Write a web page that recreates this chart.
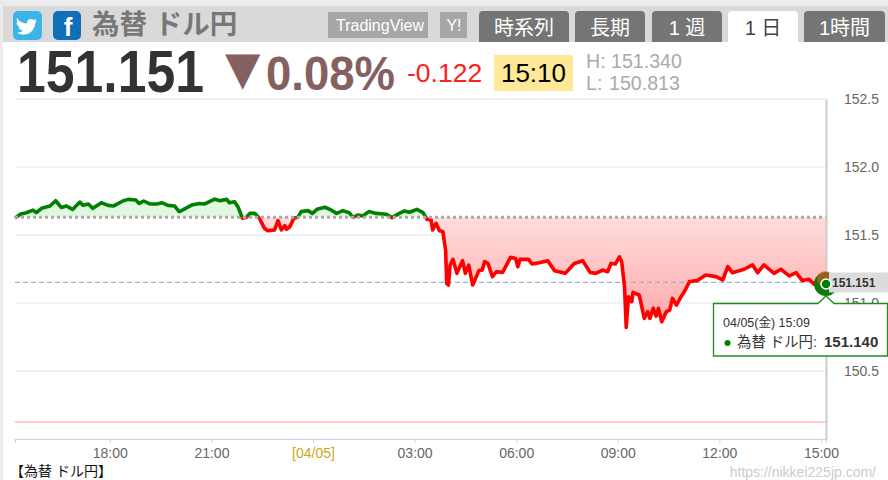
<!DOCTYPE html>
<html>
<head>
<meta charset="utf-8">
<script src="https://cdn.jsdelivr.net/npm/d3@7"></script>
<style>
  html, body { margin: 0; padding: 0; background: #fff; overflow: hidden; }
  svg { display: block; }
  text { font-family: "Liberation Sans", "Noto Sans CJK JP", sans-serif; }
</style>
</head>
<body>
<div id="chart"></div>
<script>
// USD/JPY, 04/04 15:12 to 04/05 15:09
const times = [
  "15:12", "15:14", "15:21", "15:32", "15:44", "15:50", "15:59", "16:14", "16:24", "16:34",
  "16:43", "16:54", "17:07", "17:13", "17:22", "17:30", "17:45", "17:57", "18:06", "18:24",
  "18:33", "18:46", "18:52", "19:00", "19:11", "19:23", "19:33", "19:43", "19:55", "20:03",
  "20:11", "20:25", "20:39", "20:48", "21:06", "21:15", "21:27", "21:32", "21:41", "21:47",
  "21:55", "22:02", "22:08", "22:17", "22:25", "22:34", "22:40", "22:52", "22:58", "23:04",
  "23:10", "23:13", "23:19", "23:26", "23:33", "23:39", "23:51", "23:59", "00:07", "00:21",
  "00:32", "00:42", "00:53", "01:04", "01:11", "01:20", "01:28", "01:39", "01:52", "02:10",
  "02:20", "02:33", "02:42", "02:51", "03:04", "03:15", "03:22", "03:29", "03:32", "03:38",
  "03:44", "03:50", "03:55", "03:57", "04:00", "04:03", "04:08", "04:15", "04:25", "04:30",
  "04:36", "04:43", "04:54", "05:00", "05:04", "05:10", "05:18", "05:25", "05:36", "05:50",
  "05:59", "06:03", "06:07", "06:22", "06:28", "06:41", "06:56", "07:08", "07:27", "07:43",
  "07:58", "08:11", "08:21", "08:33", "08:42", "08:48", "08:56", "09:03", "09:07", "09:12",
  "09:15", "09:19", "09:25", "09:27", "09:38", "09:47", "09:53", "09:57", "10:03", "10:08",
  "10:12", "10:18", "10:26", "10:32", "10:37", "10:44", "10:52", "10:58", "11:07", "11:21",
  "11:36", "11:54", "12:06", "12:15", "12:23", "12:44", "12:59", "13:08", "13:19", "13:37",
  "13:49", "14:04", "14:16", "14:27", "14:39", "14:48", "14:57", "15:07", "15:09"
];

const values = [
  151.625, 151.630, 151.652, 151.664, 151.683, 151.664, 151.696, 151.713, 151.752, 151.703,
  151.713, 151.688, 151.742, 151.718, 151.728, 151.696, 151.737, 151.718, 151.713, 151.752,
  151.762, 151.757, 151.732, 151.750, 151.728, 151.728, 151.737, 151.718, 151.713, 151.671,
  151.688, 151.720, 151.732, 151.728, 151.764, 151.752, 151.762, 151.737, 151.745, 151.708,
  151.623, 151.630, 151.659, 151.659, 151.623, 151.549, 151.532, 151.537, 151.606, 151.537,
  151.569, 151.542, 151.561, 151.623, 151.630, 151.672, 151.679, 151.659, 151.689, 151.704,
  151.684, 151.659, 151.679, 151.664, 151.630, 151.647, 151.640, 151.672, 151.659, 151.652,
  151.628, 151.659, 151.677, 151.667, 151.689, 151.664, 151.615, 151.615, 151.537, 151.586,
  151.532, 151.525, 151.390, 151.144, 151.132, 151.279, 151.321, 151.218, 151.311, 151.218,
  151.279, 151.132, 151.238, 151.242, 151.304, 151.291, 151.193, 151.230, 151.225, 151.336,
  151.328, 151.267, 151.321, 151.321, 151.287, 151.296, 151.311, 151.238, 151.218, 151.291,
  151.311, 151.225, 151.218, 151.242, 151.230, 151.291, 151.287, 151.340, 151.304, 151.120,
  150.821, 151.046, 151.010, 151.078, 151.059, 150.887, 150.936, 150.887, 150.961, 150.904,
  150.961, 150.862, 150.936, 150.948, 151.034, 150.985, 151.046, 151.083, 151.157, 151.165,
  151.206, 151.194, 151.169, 151.267, 151.223, 151.248, 151.280, 151.223, 151.280, 151.218,
  151.248, 151.199, 151.223, 151.165, 151.174, 151.138, 151.182, 151.145, 151.140
];

const yTicks = [150.5, 151.0, 151.5, 152.0, 152.5];
const xTickTimes = ["18:00", "21:00", "00:00", "03:00", "06:00", "09:00", "12:00", "15:00"];
const xTickLabels = ["18:00", "21:00", "[04/05]", "03:00", "06:00", "09:00", "12:00", "15:00"];

const tabNames = ["時系列", "長期", "1 週", "1 日", "1時間"];
const tabLeft = [479, 575, 652, 728, 804];
const tabRight = [569, 645, 722, 798, 885];

const prevClose = 151.63;
const lastPrice = 151.151;
const lowLine = 150.125;

const width = 888;
const height = 480;
const plot = { left: 15, right: 826, top: 99, bottom: 439 };

// 15:12 and later belongs to 04/04, the rest to 04/05
const parseTime = d3.timeParse("%m/%d %H:%M");
function toDate(t) {
  return parseTime((t >= "15:12" ? "04/04 " : "04/05 ") + t);
}

const data = times.map((t, i) => ({ date: toDate(t), value: values[i] }));

const x = d3
  .scaleTime()
  .domain([toDate("15:12"), toDate("15:09")])
  .range([plot.left, plot.right]);

const y = d3
  .scaleLinear()
  .domain([150, 152.5])
  .range([plot.bottom, plot.top]);

const svg = d3
  .select("#chart")
  .append("svg")
  .attr("width", width)
  .attr("height", height);

// page frame and header band
svg.append("rect").attr("width", width).attr("height", height).attr("fill", "#fff");
svg.append("rect").attr("width", width).attr("height", 6).attr("fill", "#ececec");
svg.append("rect").attr("y", 6).attr("width", 3).attr("height", height - 6).attr("fill", "#ececec");
svg.append("rect").attr("x", 3).attr("y", 6).attr("width", width - 3).attr("height", 36).attr("fill", "#d9d9d9");

// share buttons
svg.append("rect").attr("x", 13).attr("y", 11).attr("width", 29).attr("height", 29).attr("rx", 5).attr("fill", "#3cb4e8");
svg
  .append("path")
  .attr("d", "M18 20c3 2 6 3.5 9 3.5-.5-3.5 3.500-6 6.500-3.500l3-1-1.500 2.500 2-.5-2 2.500c0 6-5 11-11 11-2.500 0-5-.5-7-2 2.500 0 4.500-.5 6-2-2.500 0-4-1.500-4.500-3h2c-2.500-1-4-3-4-5l2 .5c-2-1.500-2.500-4-.5-5z")
  .attr("fill", "#fff");
svg.append("rect").attr("x", 53).attr("y", 11).attr("width", 28).attr("height", 29).attr("rx", 5).attr("fill", "#0f6fb8");
svg
  .append("text")
  .attr("x", 68)
  .attr("y", 36)
  .attr("text-anchor", "middle")
  .attr("font-size", 26)
  .attr("font-weight", "bold")
  .attr("fill", "#fff")
  .text("f");

svg
  .append("text")
  .attr("x", 92)
  .attr("y", 34)
  .attr("font-size", 27.5)
  .attr("font-weight", "bold")
  .attr("fill", "#777")
  .text("為替 ドル円");

// small link buttons
svg.append("rect").attr("x", 328).attr("y", 12).attr("width", 100).attr("height", 26).attr("fill", "#a6a6a6");
svg
  .append("text")
  .attr("x", 380)
  .attr("y", 31)
  .attr("text-anchor", "middle")
  .attr("font-size", 16)
  .attr("fill", "#fff")
  .text("TradingView");
svg.append("rect").attr("x", 440).attr("y", 12).attr("width", 27).attr("height", 26).attr("fill", "#a6a6a6");
svg
  .append("text")
  .attr("x", 454)
  .attr("y", 31)
  .attr("text-anchor", "middle")
  .attr("font-size", 16)
  .attr("fill", "#fff")
  .text("Y!");

// tabs
tabNames.forEach(function(name, i) {
  const active = name === "1 日";
  svg
    .append("path")
    .attr(
      "d",
      "M" + tabLeft[i] + " 42V15a4 4 0 0 1 4-4H" + (tabRight[i] - 4) + "a4 4 0 0 1 4 4V42z"
    )
    .attr("fill", active ? "#fff" : "#757575");
  svg
    .append("text")
    .attr("x", (tabLeft[i] + tabRight[i]) / 2)
    .attr("y", 35)
    .attr("text-anchor", "middle")
    .attr("font-size", 20)
    .attr("fill", active ? "#444" : "#fff")
    .text(name);
});

// price header
svg
  .append("text")
  .attr("x", 17)
  .attr("y", 92)
  .attr("font-size", 60)
  .attr("font-weight", "bold")
  .attr("fill", "#333")
  .attr("textLength", 187)
  .attr("lengthAdjust", "spacingAndGlyphs")
  .text("151.151");
svg
  .append("text")
  .attr("x", 225)
  .attr("y", 84)
  .attr("font-size", 46)
  .attr("fill", "#856060")
  .style("font-family", "'DejaVu Sans'")
  .text("▼");
svg
  .append("text")
  .attr("x", 266)
  .attr("y", 90)
  .attr("font-size", 49)
  .attr("font-weight", "bold")
  .attr("fill", "#856060")
  .attr("textLength", 129)
  .attr("lengthAdjust", "spacingAndGlyphs")
  .text("0.08%");
svg
  .append("text")
  .attr("x", 407)
  .attr("y", 82)
  .attr("font-size", 26.5)
  .attr("fill", "#ff2020")
  .text("-0.122");
svg.append("rect").attr("x", 494).attr("y", 55).attr("width", 79).attr("height", 36).attr("fill", "#ffe999");
svg
  .append("text")
  .attr("x", 533.5)
  .attr("y", 82)
  .attr("text-anchor", "middle")
  .attr("font-size", 26)
  .attr("fill", "#000")
  .text("15:10");
svg
  .append("text")
  .attr("x", 586)
  .attr("y", 68)
  .attr("font-size", 19.6)
  .attr("fill", "#aaa")
  .text("H: 151.340");
svg
  .append("text")
  .attr("x", 586)
  .attr("y", 90)
  .attr("font-size", 19.6)
  .attr("fill", "#aaa")
  .text("L:");
svg
  .append("text")
  .attr("x", 609)
  .attr("y", 90)
  .attr("font-size", 19.6)
  .attr("fill", "#aaa")
  .text("150.813");

// grid
svg
  .append("g")
  .selectAll("line")
  .data(yTicks)
  .enter()
  .append("line")
  .attr("x1", plot.left)
  .attr("x2", plot.right)
  .attr("y1", d => y(d))
  .attr("y2", d => y(d))
  .attr("stroke", "#e6e6e6");

// clip regions above and below the previous close
const defs = svg.append("defs");
defs
  .append("clipPath")
  .attr("id", "above")
  .append("rect")
  .attr("x", 0)
  .attr("y", 0)
  .attr("width", plot.right)
  .attr("height", y(prevClose));
defs
  .append("clipPath")
  .attr("id", "below")
  .append("rect")
  .attr("x", 0)
  .attr("y", y(prevClose))
  .attr("width", plot.right)
  .attr("height", height);

const redGradient = defs
  .append("linearGradient")
  .attr("id", "redFill")
  .attr("gradientUnits", "userSpaceOnUse")
  .attr("x1", 0)
  .attr("x2", 0)
  .attr("y1", y(prevClose))
  .attr("y2", y(150.82));
redGradient.append("stop").attr("offset", 0).attr("stop-color", "#ffdcdc");
redGradient.append("stop").attr("offset", 1).attr("stop-color", "#ffa8a8");

const area = d3
  .area()
  .x(d => x(d.date))
  .y0(y(prevClose))
  .y1(d => y(d.value));

const line = d3
  .line()
  .x(d => x(d.date))
  .y(d => y(d.value));

svg
  .append("path")
  .datum(data)
  .attr("d", area)
  .attr("fill", "#e2f7e2")
  .attr("clip-path", "url(#above)");
svg
  .append("path")
  .datum(data)
  .attr("d", area)
  .attr("fill", "url(#redFill)")
  .attr("clip-path", "url(#below)");

// reference lines
svg
  .append("line")
  .attr("x1", plot.left)
  .attr("x2", plot.right + 2)
  .attr("y1", y(lowLine))
  .attr("y2", y(lowLine))
  .attr("stroke", "#ffcccc")
  .attr("stroke-width", 2);
svg
  .append("line")
  .attr("x1", plot.left)
  .attr("x2", plot.right)
  .attr("y1", y(lastPrice))
  .attr("y2", y(lastPrice))
  .attr("stroke", "#a3adcc")
  .attr("stroke-width", 1.2)
  .attr("stroke-dasharray", "5 3");

svg
  .append("path")
  .datum(data)
  .attr("d", line)
  .attr("fill", "none")
  .attr("stroke", "#008000")
  .attr("stroke-width", 3.6)
  .attr("stroke-linejoin", "round")
  .attr("clip-path", "url(#above)");
svg
  .append("path")
  .datum(data)
  .attr("d", line)
  .attr("fill", "none")
  .attr("stroke", "#ff0000")
  .attr("stroke-width", 3.6)
  .attr("stroke-linejoin", "round")
  .attr("clip-path", "url(#below)");

svg
  .append("line")
  .attr("x1", plot.left)
  .attr("x2", plot.right)
  .attr("y1", y(prevClose))
  .attr("y2", y(prevClose))
  .attr("stroke", "#aaa")
  .attr("stroke-width", 3)
  .attr("stroke-dasharray", "3 3");

// axes
const xAxis = svg
  .append("g")
  .attr("transform", "translate(0," + plot.bottom + ")")
  .call(
    d3
      .axisBottom(x)
      .tickValues(xTickTimes.map(toDate))
      .tickSize(4)
      .tickFormat((d, i) => xTickLabels[i])
  );
xAxis.select(".domain").attr("stroke", "#c5d5e8").attr("stroke-width", 1.2);
xAxis.selectAll(".tick line").attr("stroke", "#c5d5e8");
xAxis
  .selectAll(".tick text")
  .attr("y", 9)
  .attr("font-size", 14)
  .attr("fill", (d, i) => (xTickLabels[i] === "[04/05]" ? "#c9a91c" : "#666"));

const yAxis = svg
  .append("g")
  .attr("transform", "translate(" + plot.right + ",0)")
  .call(
    d3
      .axisRight(y)
      .tickValues(yTicks)
      .tickSize(0)
      .tickFormat(d3.format(".1f"))
  );
yAxis.select(".domain").attr("stroke", "#ccc").attr("stroke-width", 2);
yAxis
  .selectAll(".tick text")
  .attr("x", 18)
  .attr("font-size", 14)
  .attr("fill", "#666");

// hover marker at the last point
const last = data[data.length - 1];
svg
  .append("circle")
  .attr("cx", x(last.date))
  .attr("cy", y(last.value))
  .attr("r", 12)
  .attr("fill", "#0c7a0c");
svg
  .append("circle")
  .attr("cx", x(last.date) - 1)
  .attr("cy", y(last.value) - 5)
  .attr("r", 8)
  .attr("fill", "#ff4d2e")
  .attr("fill-opacity", 0.55);

// last price label
svg.append("rect").attr("x", 829).attr("y", y(lastPrice) - 10).attr("width", 59).attr("height", 20).attr("fill", "#dcdcdc");
svg
  .append("text")
  .attr("x", 832)
  .attr("y", y(lastPrice) + 4.5)
  .attr("font-size", 12)
  .attr("font-weight", "bold")
  .attr("fill", "#333")
  .text("151.151");

svg
  .append("circle")
  .attr("cx", x(last.date))
  .attr("cy", y(last.value))
  .attr("r", 5)
  .attr("fill", "#008000")
  .attr("stroke", "#fff")
  .attr("stroke-width", 1.5);

// tooltip
svg
  .append("path")
  .attr("d", "M713.500 303.500H818L826 296L834 303.500H887.500V356H713.500z")
  .attr("fill", "#fff")
  .attr("stroke", "#1f8a1f")
  .attr("stroke-width", 1.3);
svg
  .append("text")
  .attr("x", 723)
  .attr("y", 327)
  .attr("font-size", 12.5)
  .attr("fill", "#333")
  .text("04/05(金) 15:09");
svg.append("circle").attr("cx", 727.5).attr("cy", 343).attr("r", 3).attr("fill", "#008000");
svg
  .append("text")
  .attr("x", 737)
  .attr("y", 347)
  .attr("font-size", 14.4)
  .attr("fill", "#333")
  .text("為替 ドル円:");
svg
  .append("text")
  .attr("x", 824)
  .attr("y", 347)
  .attr("font-size", 15)
  .attr("font-weight", "bold")
  .attr("fill", "#333")
  .text("151.140");

// footer
svg
  .append("text")
  .attr("x", 10)
  .attr("y", 476)
  .attr("font-size", 14)
  .attr("fill", "#111")
  .text("【為替 ドル円】");
svg
  .append("text")
  .attr("x", 876)
  .attr("y", 477)
  .attr("text-anchor", "end")
  .attr("font-size", 14)
  .attr("fill", "#ccc")
  .text("https://nikkei225jp.com/");
</script>
</body>
</html>
